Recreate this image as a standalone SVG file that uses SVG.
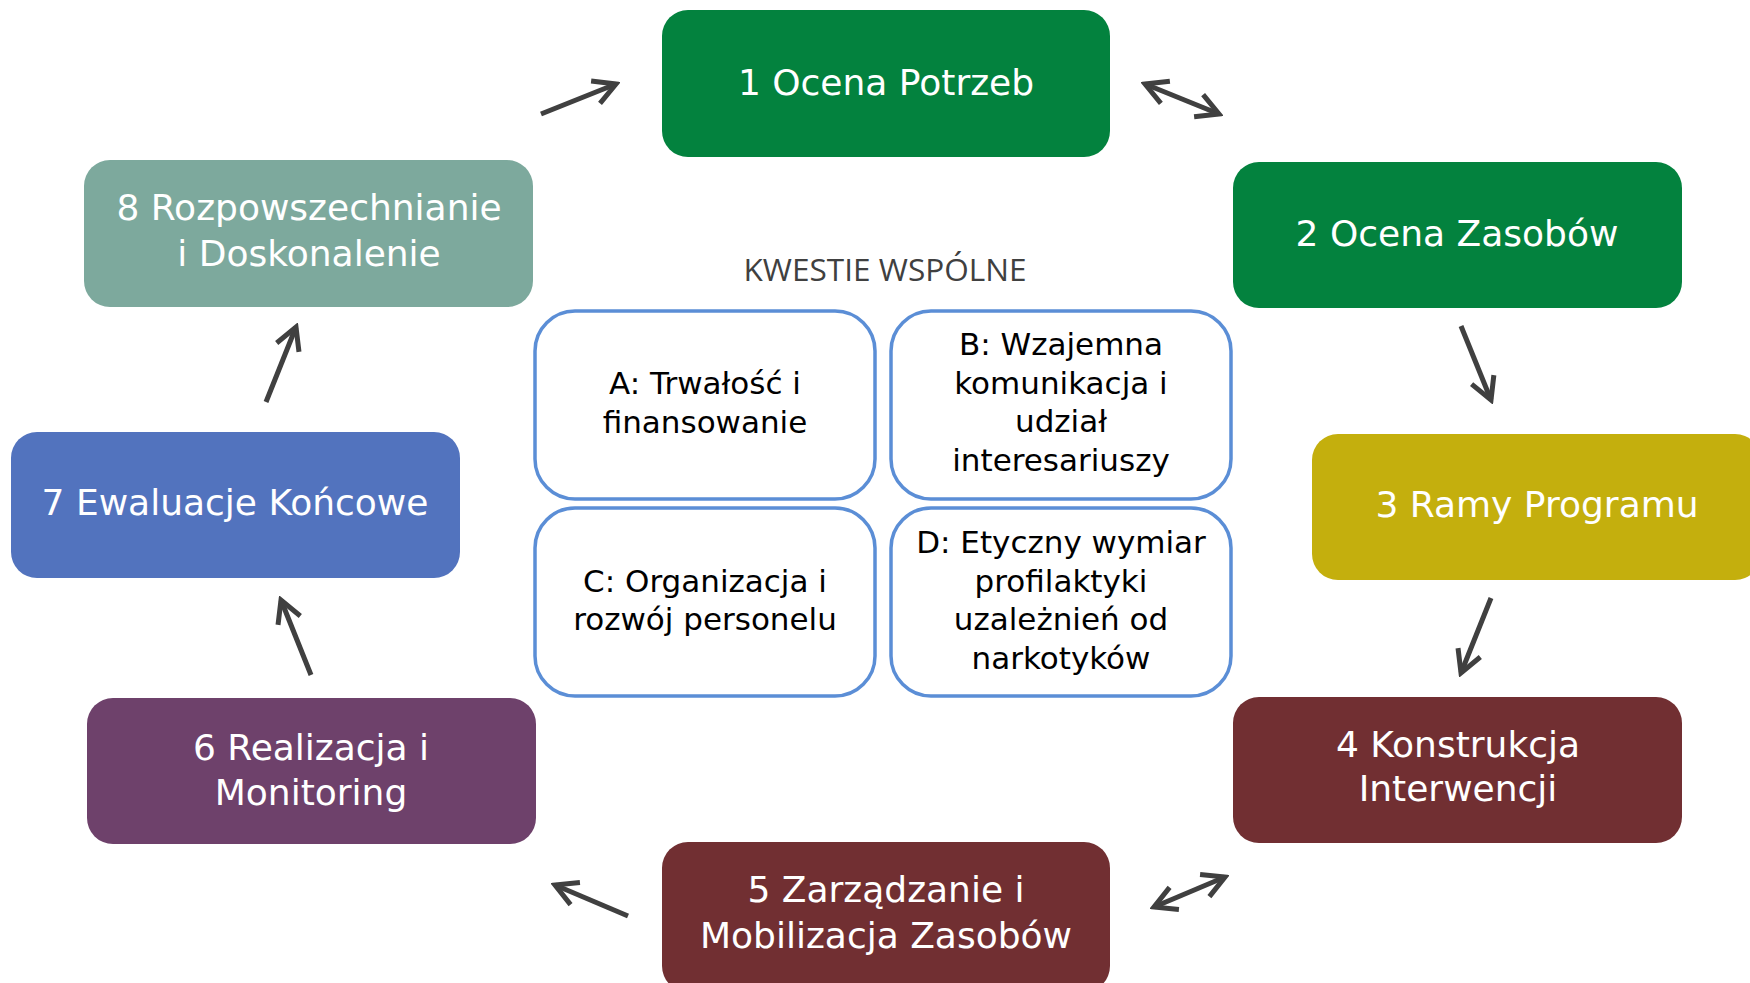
<svg xmlns="http://www.w3.org/2000/svg" width="1750" height="983" viewBox="0 0 1750 983">
<style>
.node rect{stroke:none}
.nt{font-family:"DejaVu Sans","Liberation Sans",sans-serif;font-size:36px;fill:#ffffff;text-anchor:middle}
.box rect{fill:#ffffff;stroke:#5B8ED6;stroke-width:3.5}
.bt{font-family:"DejaVu Sans","Liberation Sans",sans-serif;font-size:31px;fill:#000000;text-anchor:middle}
.title{font-family:"Open Sans","Liberation Sans",sans-serif;font-size:31px;fill:#404040;text-anchor:middle}
.conn line{stroke:#404040;stroke-width:5;fill:none}
</style>
<defs>
<marker id="arr" markerUnits="userSpaceOnUse" viewBox="-30 -16 34 32" markerWidth="34" markerHeight="32" refX="0" refY="0" orient="auto-start-reverse">
<path d="M-22,-12 L0,0 L-22,12" fill="none" stroke="#404040" stroke-width="5"/>
</marker>
</defs>
<rect width="1750" height="983" fill="#ffffff"/>

<g id="node1" class="node"><rect x="662" y="10" width="448" height="147" rx="26" fill="#03823E"/><text class="nt" x="886" y="95">1 Ocena Potrzeb</text></g>
<g id="node2" class="node"><rect x="1233" y="162" width="449" height="146" rx="26" fill="#03823E"/><text class="nt" x="1457" y="246">2 Ocena Zasobów</text></g>
<g id="node3" class="node"><rect x="1312" y="434" width="449" height="146" rx="26" fill="#C4AF0D"/><text class="nt" x="1537" y="517">3 Ramy Programu</text></g>
<g id="node4" class="node"><rect x="1233" y="697" width="449" height="146" rx="26" fill="#712F32"/><text class="nt" x="1458" y="757">4 Konstrukcja</text><text class="nt" x="1458" y="801">Interwencji</text></g>
<g id="node5" class="node"><rect x="662" y="842" width="448" height="150" rx="26" fill="#712F32"/><text class="nt" x="886" y="902">5 Zarządzanie i</text><text class="nt" x="886" y="948">Mobilizacja Zasobów</text></g>
<g id="node6" class="node"><rect x="87" y="698" width="449" height="146" rx="26" fill="#6E416B"/><text class="nt" x="311" y="760">6 Realizacja i</text><text class="nt" x="311" y="805">Monitoring</text></g>
<g id="node7" class="node"><rect x="11" y="432" width="449" height="146" rx="26" fill="#5273BE"/><text class="nt" x="235" y="515">7 Ewaluacje Końcowe</text></g>
<g id="node8" class="node"><rect x="84" y="160" width="449" height="147" rx="26" fill="#7DA99D"/><text class="nt" x="309" y="220">8 Rozpowszechnianie</text><text class="nt" x="309" y="266">i Doskonalenie</text></g>

<text class="title" x="885" y="281" textLength="283" lengthAdjust="spacingAndGlyphs">KWESTIE WSPÓLNE</text>

<g id="boxA" class="box"><rect x="535" y="311" width="340" height="188" rx="40"/><text class="bt" x="705" y="394">A: Trwałość i</text><text class="bt" x="705" y="433">finansowanie</text></g>
<g id="boxB" class="box"><rect x="891" y="311" width="340" height="188" rx="40"/><text class="bt" x="1061" y="355">B: Wzajemna</text><text class="bt" x="1061" y="393.5">komunikacja i</text><text class="bt" x="1061" y="432">udział</text><text class="bt" x="1061" y="470.5">interesariuszy</text></g>
<g id="boxC" class="box"><rect x="535" y="508" width="340" height="188" rx="40"/><text class="bt" x="705" y="592">C: Organizacja i</text><text class="bt" x="705" y="630">rozwój personelu</text></g>
<g id="boxD" class="box"><rect x="891" y="508" width="340" height="188" rx="40"/><text class="bt" x="1061" y="553">D: Etyczny wymiar</text><text class="bt" x="1061" y="591.5">profilaktyki</text><text class="bt" x="1061" y="630">uzależnień od</text><text class="bt" x="1061" y="668.5">narkotyków</text></g>

<g id="connectors" class="conn">
<line x1="541" y1="114" x2="616" y2="84" marker-end="url(#arr)"/>
<line x1="1145" y1="84" x2="1219" y2="114" marker-start="url(#arr)" marker-end="url(#arr)"/>
<line x1="1461" y1="326" x2="1491" y2="400" marker-end="url(#arr)"/>
<line x1="1491" y1="598" x2="1461" y2="673" marker-end="url(#arr)"/>
<line x1="1225" y1="877" x2="1154" y2="907" marker-start="url(#arr)" marker-end="url(#arr)"/>
<line x1="628" y1="916" x2="555" y2="885" marker-end="url(#arr)"/>
<line x1="311" y1="675" x2="281" y2="600" marker-end="url(#arr)"/>
<line x1="266" y1="402" x2="296" y2="327" marker-end="url(#arr)"/>
</g>
</svg>
